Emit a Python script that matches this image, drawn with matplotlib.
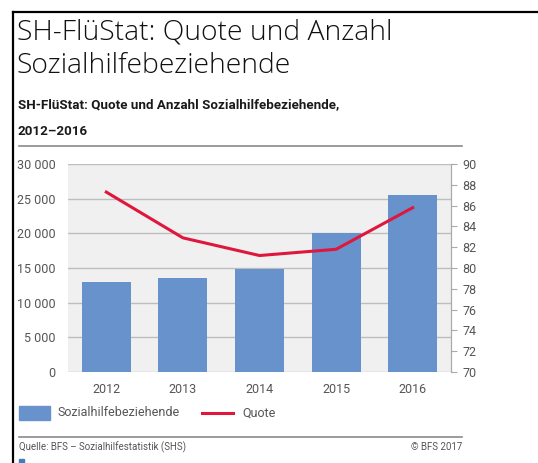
import matplotlib
matplotlib.use('Agg')
import matplotlib.pyplot as plt
from matplotlib.patches import Rectangle
from matplotlib.lines import Line2D
import numpy as np

# data
years = ['2012', '2013', '2014', '2015', '2016']
beziehende = [12950, 13500, 14850, 20100, 25550]
quote = [87.3, 82.9, 81.2, 81.8, 85.8]
left_ticks = [0, 5000, 10000, 15000, 20000, 25000, 30000]
left_labels = ['0', '5 000', '10 000', '15 000', '20 000', '25 000', '30 000']
right_ticks = list(range(70, 91, 2))

bar_col = '#6892cb'
line_col = '#e0173d'
txt_col = '#555555'
grid_col = '#bdbdbd'

fig = plt.figure(figsize=(5.38, 4.63), dpi=100)
W, H = 538.0, 463.0

def fx(px):
    return px / W

def fy(py):
    return 1 - py / H

# black frame (top and left)
fig.add_artist(Line2D([fx(13), 1], [fy(12), fy(12)], color='black', lw=1.6))
fig.add_artist(Line2D([fx(13), fx(13)], [fy(12), 0], color='black', lw=1.6))

fig.text(fx(17), fy(40), 'SH-FlüStat: Quote und Anzahl', fontsize=20.3, family='Open Sans', weight='light', color='#111111')
fig.text(fx(17), fy(73), 'Sozialhilfebeziehende', fontsize=20.3, family='Open Sans', weight='light', color='#111111')
fig.text(fx(18), fy(108), 'SH-FlüStat: Quote und Anzahl Sozialhilfebeziehende,', fontsize=9.6,
         family='Roboto', weight='bold', color='#1a1a1a')
fig.text(fx(18), fy(135), '2012–2016', fontsize=9.6, family='Roboto', weight='bold', color='#1a1a1a')
fig.add_artist(Line2D([fx(19), fx(462)], [fy(146), fy(146)], color='#8a8a8a', lw=1.2))

ax = fig.add_axes([fx(68), fy(372), fx(451) - fx(68), (372 - 164) / H])
ax.set_facecolor('#f0f0f0')
x = np.arange(len(years))
ax.bar(x, beziehende, width=0.64, color=bar_col, zorder=3)
ax.set_ylim(0, 30000)
ax.set_xlim(-0.5, 4.5)
ax.set_yticks(left_ticks)
ax.set_yticklabels(left_labels)
ax.set_xticks(x)
ax.set_xticklabels(years)
ax.grid(axis='y', color=grid_col, lw=1.0, zorder=1)
for s in ['left', 'top', 'bottom']:
    ax.spines[s].set_visible(False)
ax.spines['right'].set_color('#aaaaaa')
ax.tick_params(axis='y', length=0, pad=9, labelsize=9, labelcolor=txt_col)
ax.tick_params(axis='x', length=0, pad=8, labelsize=9, labelcolor=txt_col)
for lab in ax.get_xticklabels() + ax.get_yticklabels():
    lab.set_family('Roboto')

ax2 = ax.twinx()
ax2.plot(x, quote, color=line_col, lw=2.2, zorder=4)
ax2.set_ylim(70, 90)
ax2.set_yticks(right_ticks)
for s in ['left', 'top', 'bottom']:
    ax2.spines[s].set_visible(False)
ax2.spines['right'].set_color('#aaaaaa')
ax2.tick_params(axis='y', length=4, color='#aaaaaa', pad=4, labelsize=9, labelcolor=txt_col)
for lab in ax2.get_yticklabels():
    lab.set_family('Roboto')

# legend
fig.add_artist(Rectangle((fx(19), fy(420)), fx(50) - fx(19), (420 - 406) / H, color=bar_col))
fig.text(fx(58), fy(413), 'Sozialhilfebeziehende', fontsize=9, family='Roboto', color=txt_col, va='center')
fig.add_artist(Line2D([fx(202), fx(233)], [fy(413), fy(413)], color=line_col, lw=2.2))
fig.text(fx(242), fy(413), 'Quote', fontsize=9, family='Roboto', color=txt_col, va='center')

fig.add_artist(Line2D([fx(19), fx(462)], [fy(437), fy(437)], color='#8a8a8a', lw=1.2))
fig.text(fx(19), fy(447), 'Quelle: BFS – Sozialhilfestatistik (SHS)', fontsize=7, family='Roboto',
         color=txt_col, va='center')
fig.text(fx(462), fy(447), '© BFS 2017', fontsize=7, family='Roboto', color=txt_col, va='center', ha='right')
fig.add_artist(Rectangle((fx(19), 0), fx(24) - fx(19), 4 / H, color='#3f7fc0'))

fig.savefig('out.png', dpi=100)
